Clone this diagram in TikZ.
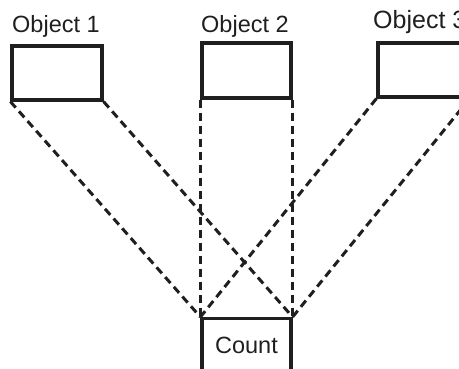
\documentclass[tikz,border=0pt]{standalone}
\usepackage{fontspec}
\setmainfont{Liberation Sans}
\usepackage{tikz}
\usetikzlibrary{positioning, calc}

\begin{document}
\begin{tikzpicture}[
  x=1pt, y=-1pt,
  every node/.style={font=\fontsize{23.5}{26}\selectfont, text=black!88},
  objbox/.style={draw=black!88, line width=3.2pt, minimum width=90pt, minimum height=54pt, inner sep=0pt},
  link/.style={draw=black!88, line width=3pt, dash pattern=on 8pt off 5pt}
]
\useasboundingbox (0,0) rectangle (459,369);
\clip (0,0) rectangle (459,369);

% Object boxes
\node[objbox] (obj1) at (57,73) {};
\node[objbox, minimum width=89pt, minimum height=55pt] (obj2) at (246.5,70.5) {};
\node[objbox] (obj3) at (423,70) {};

% Labels
\node[anchor=base west, inner sep=0pt] (lab1) at (12,33) {Object 1};
\node[anchor=base west, inner sep=0pt] (lab2) at (201,33) {Object 2};
\node[anchor=base west, inner sep=0pt, font=\fontsize{25}{28}\selectfont] (lab3) at (373,29) {Object 3};

% Count box (runs past the bottom edge)
\node[objbox, anchor=north, minimum width=89pt, minimum height=0pt,
      text height=17pt, text depth=50pt, inner ysep=18pt] (count) at (246.5,317) {Count};

% Dashed links
\draw[link] (obj1.south west) -- (count.north west);
\draw[link] (obj1.south east) -- (count.north east);
\draw[link] (obj2.south west) -- (count.north west);
\draw[link] (obj2.south east) -- (count.north east);
\draw[link] (obj3.south west) -- (count.north west);
\draw[link] (obj3.south east) -- (count.north east);

\end{tikzpicture}
\end{document}
